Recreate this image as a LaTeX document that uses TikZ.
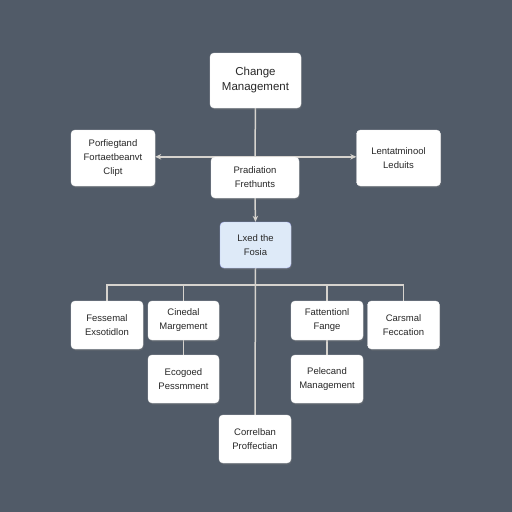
\documentclass[tikz,border=0pt]{standalone}
\usepackage{fontspec}
\setmainfont{Liberation Sans}
\usepackage{tikz}
\usetikzlibrary{shadows,backgrounds,arrows.meta}

\definecolor{slate}{RGB}{81,91,104}
\definecolor{linkgray}{RGB}{214,211,206}
\definecolor{leadblue}{RGB}{222,234,248}
\definecolor{inkgray}{RGB}{40,40,40}

\tikzset{
  card/.style={draw=white!90!gray,fill=white,rounded corners=4pt,align=center,
    inner sep=0pt,text=inkgray,font=\fontsize{9.5}{14}\selectfont,
    drop shadow={opacity=0.3,shadow xshift=0.8pt,shadow yshift=-1.6pt}},
  link/.style={draw=linkgray,line width=1.5pt},
  pointer/.style={link,-{Stealth[length=6pt,width=5.5pt]}}
}

\begin{document}
\begin{tikzpicture}[x=1pt,y=-1pt]
  \useasboundingbox (0,0) rectangle (512,512);

  \node[card,minimum width=91,minimum height=55,font=\fontsize{11.5}{15}\selectfont] (change) at (255.5,80.5) {Change\\Management};
  \node[card,minimum width=84,minimum height=56] (leftbox) at (113,158) {Porfiegtand\\Fortaetbeanvt\\Clipt};
  \node[card,minimum width=88,minimum height=41] (pred) at (255,177.5) {Pradiation\\Frethunts};
  \node[card,minimum width=84,minimum height=56] (rightbox) at (398.5,158) {Lentatminool\\Leduits};
  \node[card,fill=leadblue,draw=leadblue!80!blue,minimum width=71,minimum height=46] (lead) at (255.5,245) {Lxed the\\Fosia};

  \node[card,minimum width=72,minimum height=48] (fess) at (107,325) {Fessemal\\Exsotidlon};
  \node[card,minimum width=71,minimum height=39] (cin) at (183.5,320.5) {Cinedal\\Margement};
  \node[card,minimum width=72,minimum height=39] (fatt) at (327,320.5) {Fattentionl\\Fange};
  \node[card,minimum width=72,minimum height=48] (cars) at (403.5,325) {Carsmal\\Feccation};

  \node[card,minimum width=71,minimum height=48] (ecog) at (183.5,379) {Ecogoed\\Pessmment};
  \node[card,minimum width=72,minimum height=48] (pele) at (327,379) {Pelecand\\Management};

  \node[card,minimum width=72,minimum height=48] (corr) at (255,439) {Correlban\\Proffectian};

  \begin{scope}[on background layer]
    \fill[slate] (0,0) rectangle (512,512);
    % upper part
    \draw[link] (change) -- (pred);
    \draw[pointer] (pred.north) -- (pred.north -| leftbox.east);
    \draw[pointer] (pred.north) -- (pred.north -| rightbox.west);
    \draw[pointer] (pred.south) -- (lead.north);
    % lower tree
    \coordinate (bus) at (255.5,285);
    \draw[link] (lead.south) -- (corr.north);
    \draw[link] (fess.north) |- (bus) -| (cars.north);
    \draw[link] (cin.north) -- (cin.north |- bus);
    \draw[link] (fatt.north) -- (fatt.north |- bus);
    \draw[link] (cin) -- (ecog);
    \draw[link] (fatt) -- (pele);
  \end{scope}
\end{tikzpicture}
\end{document}
